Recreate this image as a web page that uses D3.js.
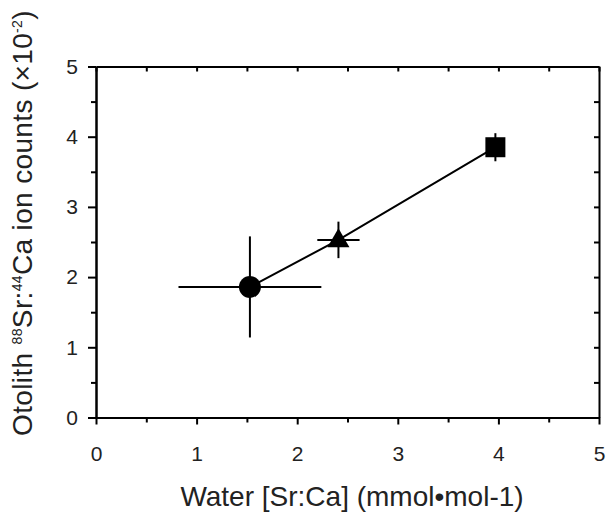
<!DOCTYPE html>
<html>
<head>
<meta charset="utf-8">
<script src="https://cdn.jsdelivr.net/npm/d3@7"></script>
<style>
  body { margin: 0; background: #fff; }
  text { font-family: "Liberation Sans", Arial, sans-serif; fill: #222; }
</style>
</head>
<body>
<div id="root"></div>
<script>
// treatment points: water Sr:Ca vs otolith ratio
const shapes = ["circle", "triangle", "square"];
const waterSrCa = [1.53, 2.41, 3.97];
const otolithRatio = [1.86, 2.53, 3.85];
const xErr = [0.71, 0.21, 0.05];
const yErr = [0.72, 0.26, 0.2];
const xTicks = [0, 1, 2, 3, 4, 5];
const yTicks = [0, 1, 2, 3, 4, 5];

const width = 606, height = 521;
const margin = { left: 96, right: 7, top: 66.5, bottom: 103.5 };

const svg = d3.select("#root").append("svg")
  .attr("width", width)
  .attr("height", height);

const x = d3.scaleLinear().domain([0, 5]).range([margin.left, width - margin.right]);
const y = d3.scaleLinear().domain([0, 5]).range([height - margin.bottom, margin.top]);

const minorX = d3.range(0.5, 5, 1);
const minorY = d3.range(0.5, 5, 1);

// bottom axis
const bottomAxis = svg.append("g").attr("transform", `translate(0,${y(0)})`);
bottomAxis.call(d3.axisBottom(x).tickValues(xTicks).tickFormat(d3.format("d")).tickSize(7).tickPadding(22).tickSizeOuter(0));
bottomAxis.append("g").call(d3.axisBottom(x).tickValues(minorX).tickSize(5).tickFormat("").tickSizeOuter(0));

// left axis
const leftAxis = svg.append("g").attr("transform", `translate(${x(0)},0)`);
leftAxis.call(d3.axisLeft(y).tickValues(yTicks).tickFormat(d3.format("d")).tickSize(8).tickPadding(10).tickSizeOuter(0));
leftAxis.append("g").call(d3.axisLeft(y).tickValues(minorY).tickSize(5).tickFormat("").tickSizeOuter(0));

// top and right axes, ticks pointing inward
const topAxis = svg.append("g").attr("transform", `translate(0,${y(5)})`);
topAxis.call(d3.axisBottom(x).tickValues(xTicks.concat(minorX)).tickSize(5).tickFormat("").tickSizeOuter(0));
const rightAxis = svg.append("g").attr("transform", `translate(${x(5)},0)`);
rightAxis.call(d3.axisLeft(y).tickValues(yTicks.concat(minorY)).tickSize(5).tickFormat("").tickSizeOuter(0));
rightAxis.selectAll(".tick line").attr("x2", -5);

svg.selectAll(".domain").attr("stroke", "#000").attr("stroke-width", 2);
svg.selectAll(".tick line").attr("stroke", "#000").attr("stroke-width", 2);
svg.selectAll(".tick text").style("font-size", "21px").attr("fill", "#222");

const pts = shapes.map((s, i) => ({ s: s, x: waterSrCa[i], y: otolithRatio[i], ex: xErr[i], ey: yErr[i] }));

// connecting line
svg.append("path")
  .datum(pts)
  .attr("fill", "none")
  .attr("stroke", "#000")
  .attr("stroke-width", 2)
  .attr("d", d3.line().x(d => x(d.x)).y(d => y(d.y)));

// error bars
svg.selectAll(".ebx").data(pts).join("line")
  .attr("x1", d => x(d.x - d.ex)).attr("x2", d => x(d.x + d.ex))
  .attr("y1", d => y(d.y)).attr("y2", d => y(d.y))
  .attr("stroke", "#000").attr("stroke-width", 2);
svg.selectAll(".eby").data(pts).join("line")
  .attr("x1", d => x(d.x)).attr("x2", d => x(d.x))
  .attr("y1", d => y(d.y - d.ey)).attr("y2", d => y(d.y + d.ey))
  .attr("stroke", "#000").attr("stroke-width", 2);

// markers
const symType = { circle: d3.symbolCircle, triangle: d3.symbolTriangle, square: d3.symbolSquare };
const symSize = { circle: 380, triangle: 210, square: 400 };
svg.selectAll(".mark").data(pts).join("path")
  .attr("transform", d => `translate(${x(d.x)},${y(d.y) + (d.s === "triangle" ? 1 : 0)})`)
  .attr("d", d => d3.symbol().type(symType[d.s]).size(symSize[d.s])())
  .attr("fill", "#000");

// axis titles
svg.append("text")
  .attr("x", 352)
  .attr("y", 506)
  .attr("text-anchor", "middle")
  .style("font-size", "28px")
  .text("Water [Sr:Ca] (mmol•mol-1)");

const yt = svg.append("text")
  .attr("transform", "translate(32,223) rotate(-90)")
  .attr("text-anchor", "middle")
  .style("font-size", "28px")
  .style("letter-spacing", "0.35px");
yt.append("tspan").text("Otolith ");
yt.append("tspan").attr("dy", -10).style("font-size", "14px").text("88");
yt.append("tspan").attr("dy", 10).text("Sr:");
yt.append("tspan").attr("dy", -10).style("font-size", "14px").text("44");
yt.append("tspan").attr("dy", 10).text("Ca ion counts (×10");
yt.append("tspan").attr("dy", -10).style("font-size", "14px").text("-2");
yt.append("tspan").attr("dy", 10).text(")");
</script>
</body>
</html>
